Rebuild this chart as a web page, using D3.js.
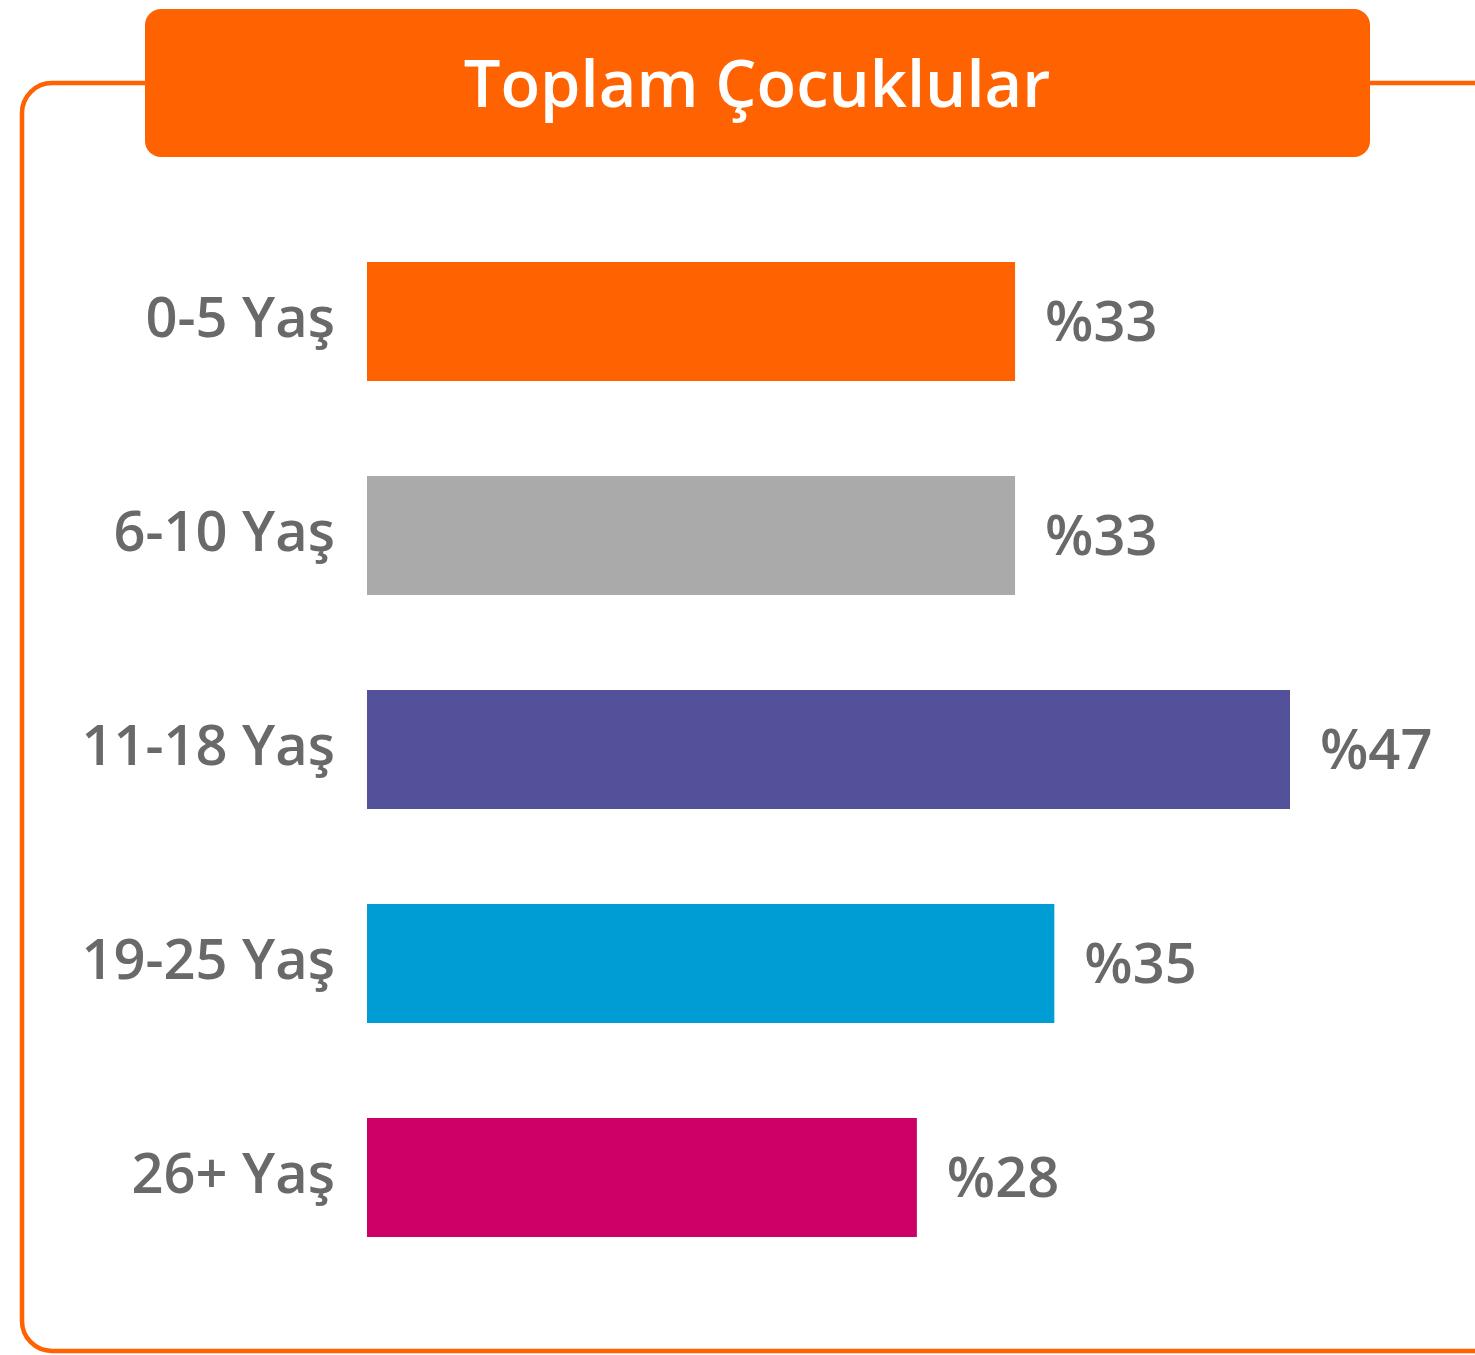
<!DOCTYPE html>
<html><head><meta charset="utf-8">
<script src="https://cdn.jsdelivr.net/npm/d3@7"></script>
<style>html,body{margin:0;padding:0;background:#fff;}svg{display:block;}</style>
</head><body>
<script>
const title = "Toplam Çocuklular";
const categories = ["0-5 Yaş", "6-10 Yaş", "11-18 Yaş", "19-25 Yaş", "26+ Yaş"];
const values = [33, 33, 47, 35, 28];
const valueLabels = ["%33", "%33", "%47", "%35", "%28"];
const colors = ["#FF6200", "#AAAAAA", "#52519A", "#009CD4", "#CC0066"];

const W = 1475, H = 1355;
const svg = d3.select("body").append("svg").attr("width", W).attr("height", H);
const font = "'Open Sans', 'Noto Sans', sans-serif";

// outer frame
svg.append("rect").attr("x", 22).attr("y", 83).attr("width", 1490).attr("height", 1268)
  .attr("rx", 30).attr("ry", 30).attr("fill", "none").attr("stroke", "#FF6200").attr("stroke-width", 4.5);

// title box
svg.append("rect").attr("x", 145).attr("y", 9).attr("width", 1225).attr("height", 148)
  .attr("rx", 16).attr("ry", 16).attr("fill", "#FF6200");
svg.append("text").attr("x", 757).attr("y", 107).attr("text-anchor", "middle")
  .attr("font-family", font).attr("font-weight", 600).attr("font-size", 65)
  .attr("fill", "#fff").text(title);

const x = d3.scaleLinear().domain([0, 47]).range([367, 1290]);
const y = d3.scaleBand().domain(categories).range([262 - 95/2, 1237 + 95/2]).paddingInner(95/214).paddingOuter(95/214/2);

const g = svg.append("g");
g.selectAll("rect.bar").data(categories).join("rect").attr("class", "bar")
  .attr("x", x(0)).attr("y", d => y(d)).attr("height", y.bandwidth())
  .attr("width", (d, i) => x(values[i]) - x(0)).attr("fill", (d, i) => colors[i]);

g.selectAll("text.cat").data(categories).join("text").attr("class", "cat")
  .attr("x", 335).attr("y", d => y(d) + y.bandwidth() / 2 + 15).attr("text-anchor", "end")
  .attr("font-family", font).attr("font-weight", 600).attr("font-size", 56).attr("fill", "#696969")
  .text(d => d);

g.selectAll("text.val").data(categories).join("text").attr("class", "val")
  .attr("x", (d, i) => x(values[i]) + 30).attr("y", d => y(d) + y.bandwidth() / 2 + 19)
  .attr("font-family", font).attr("font-weight", 600).attr("font-size", 56).attr("fill", "#696969")
  .text((d, i) => valueLabels[i]);
</script>
</body></html>
